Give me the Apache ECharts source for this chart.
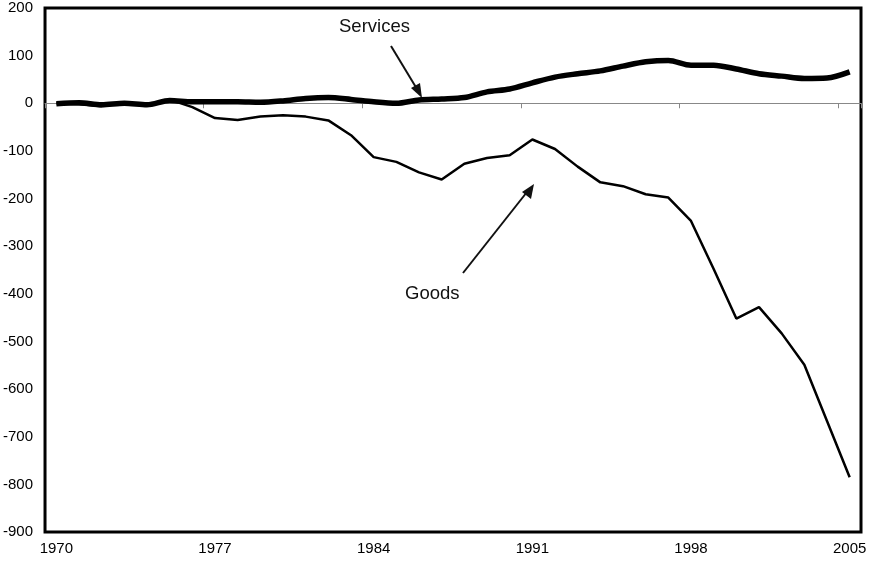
<!DOCTYPE html>
<html>
<head>
<meta charset="utf-8">
<script src="https://cdn.jsdelivr.net/npm/echarts@6/dist/echarts.min.js"></script>
<style>html,body{margin:0;padding:0;background:#fff;}#c{width:876px;height:566px;}</style>
</head>
<body>
<div id="c"></div>
<script>
var years = [];
for (var y = 1970; y <= 2005; y++) years.push(String(y));

var goods = [0, -2, -6, 0, -4, 8, -8, -31, -35, -28, -25, -28, -36, -67, -113, -123, -145, -160, -127, -115, -109, -76, -96, -133, -166, -174, -191, -198, -247, -348, -452, -428, -483, -549, -667, -785];
var services = [-1, 1, -3, 0, -3, 6, 3, 3, 3, 2, 5, 10, 12, 8, 3, 0, 7, 9, 12, 24, 30, 43, 55, 62, 68, 78, 87, 90, 80, 80, 72, 62, 57, 52, 53, 66];

var yTicks = { min: -900, max: 200, step: 100 };

var chart = echarts.init(document.getElementById('c'), null, { renderer: 'canvas' });
var font = 'Liberation Sans, Arial, sans-serif';
chart.setOption({
  animation: false,
  backgroundColor: '#fff',
  grid: { left: 45, right: 15, top: 8, bottom: 34, show: true, borderColor: '#000', borderWidth: 3, backgroundColor: 'transparent' },
  xAxis: [{
    type: 'category', data: years, boundaryGap: true, position: 'bottom',
    axisLine: { onZero: true, lineStyle: { color: '#888', width: 1 } },
    axisTick: { show: true, interval: 6, length: 5, lineStyle: { color: '#888' } },
    axisLabel: { show: false },
    splitLine: { show: false }
  }, {
    type: 'category', data: years, boundaryGap: true, position: 'bottom',
    axisLine: { show: false, onZero: false },
    axisTick: { show: false },
    axisLabel: { interval: 6, color: '#000', fontSize: 15, fontFamily: font, margin: 9 },
    splitLine: { show: false }
  }],
  yAxis: {
    type: 'value', min: yTicks.min, max: yTicks.max, interval: yTicks.step,
    axisLine: { show: false },
    axisTick: { show: false },
    splitLine: { show: false },
    axisLabel: { color: '#000', fontSize: 15, fontFamily: font, margin: 12 }
  },
  series: [{
    name: 'Goods', type: 'line', xAxisIndex: 0, data: goods, symbol: 'none',
    lineStyle: { color: '#000', width: 2.5 }, z: 3
  }, {
    name: 'Services', type: 'line', xAxisIndex: 0, data: services, symbol: 'none', smooth: 0.3,
    lineStyle: { color: '#000', width: 5.5 }, z: 4
  }],
  graphic: [
    { type: 'text', left: 339, top: 17, style: { text: 'Services', fontSize: 18.5, fontFamily: font, fill: '#111' } },
    { type: 'text', left: 405, top: 284, style: { text: 'Goods', fontSize: 18.5, fontFamily: font, fill: '#111' } },
    { type: 'line', shape: { x1: 391, y1: 46, x2: 417, y2: 89 }, style: { stroke: '#111', lineWidth: 2 } },
    { type: 'polygon', shape: { points: [[422, 98], [411, 88], [420, 83]] }, style: { fill: '#111' } },
    { type: 'line', shape: { x1: 463, y1: 273, x2: 527, y2: 192 }, style: { stroke: '#111', lineWidth: 2 } },
    { type: 'polygon', shape: { points: [[534, 184], [531, 199], [522, 192]] }, style: { fill: '#111' } }
  ]
});
</script>
</body>
</html>
